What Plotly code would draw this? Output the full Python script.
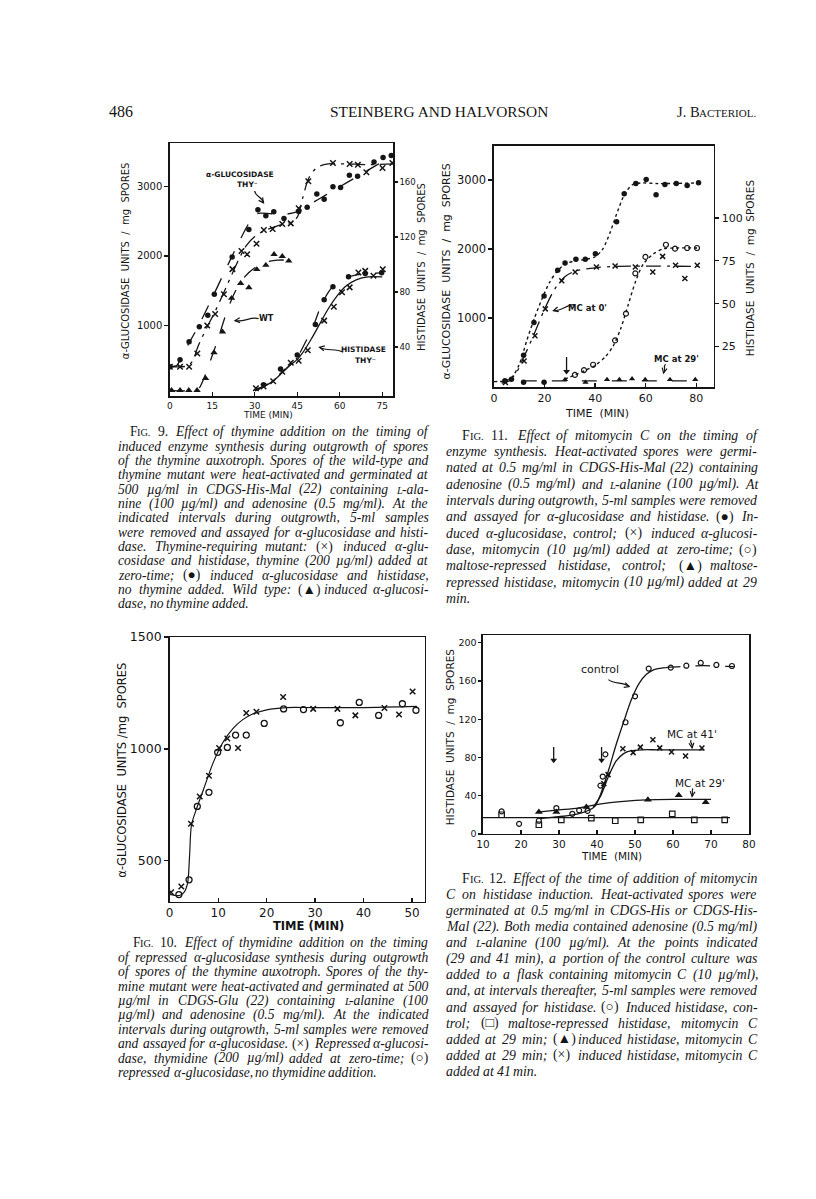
import math
import plotly.graph_objects as go

W, H = 816, 1199
INK = '#151515'

# ======================= DATA =======================
# ---- Fig. 9 (left axis: alpha-glucosidase, right axis: histidase) ----
f9_glu_nothy_t = [0, 3.6, 6.8, 10.4, 13.4, 15.7, 22, 27.9, 31.1, 33.9, 36.7, 40.3, 45.5, 48.5, 51.9, 54.5, 57.6, 60.3, 63.4, 66.3, 72.1, 75.3, 78.2]
f9_glu_nothy = [400, 500, 762, 976, 1143, 1448, 1986, 2381, 2667, 2581, 2638, 2543, 2643, 2705, 2895, 2819, 3000, 2990, 3167, 3152, 3357, 3424, 3452]
f9_glu_thy_t = [0, 3.6, 6.8, 9.7, 13.2, 16, 19.1, 22.1, 25.3, 27.3, 30.6, 33.2, 36.3, 39.7, 42.7, 45.5, 48.9, 57.6, 63.5, 66.4, 69.4, 75.1, 78.6]
f9_glu_thy = [400, 400, 400, 590, 995, 1162, 1448, 1810, 2071, 2024, 2176, 2376, 2390, 2462, 2471, 2690, 3081, 3343, 3329, 3319, 3210, 3271, 3343]
f9_glu_wt_t = [0.6, 3.6, 6.7, 9.6, 12.6, 15.6, 18.6, 21.8, 25, 27.9, 30.7, 33.9, 36.8, 39.7, 42]
f9_glu_wt = [60, 60, 60, 60, 233, 605, 905, 1390, 1605, 1543, 1805, 1867, 2024, 1995, 1929]
f9_his_nothy_t = [33.1, 39.1, 45, 51.4, 54.5, 57.6, 63.1, 69, 74.8]
f9_his_nothy = [12.6, 24, 34.2, 56.3, 74.3, 83.9, 91.1, 93.5, 94]
f9_his_thy_t = [30.4, 33.1, 36.5, 39.7, 42.7, 45.5, 48.7, 54.5, 57.9, 60.8, 63.5, 66.6, 69, 71.9, 75.2]
f9_his_thy = [10, 11.2, 15, 22, 28.5, 30, 37.6, 59.2, 69.3, 79.8, 83.4, 94.2, 95.4, 91.8, 96.6]
# hand-drawn curves
f9_fit_nothy_t = [0, 2.5, 4, 7, 10, 15, 20, 25, 28, 30, 32, 36, 42, 45, 50, 55, 60, 65, 70, 75, 78.5]
f9_fit_nothy = [400, 420, 540, 760, 980, 1400, 1830, 2250, 2480, 2600, 2620, 2610, 2610, 2640, 2760, 2880, 3000, 3120, 3240, 3360, 3450]
f9_fit_thy_t = [0, 6, 8, 10, 13, 16, 20, 24, 27, 30, 33, 37, 40, 43, 45, 47, 49, 52, 56, 62, 70, 79]
f9_fit_thy = [400, 410, 480, 700, 960, 1200, 1560, 1920, 2150, 2280, 2360, 2420, 2460, 2490, 2560, 2850, 3120, 3280, 3330, 3330, 3320, 3330]
f9_fit_wt_t = [0, 9, 10.5, 12, 14, 17, 20, 23, 26, 30, 34, 38, 42]
f9_fit_wt = [60, 60, 100, 230, 450, 800, 1180, 1480, 1680, 1830, 1910, 1940, 1940]
f9_fit_his_nothy_t = [30, 33, 37, 41, 44, 46, 48, 51, 53, 56, 59, 63, 68, 75]
f9_fit_his_nothy = [8, 11, 17, 24, 30, 36, 44, 57, 68, 80, 87, 91, 93, 94]
f9_fit_his_thy_t = [30, 34, 38, 42, 45, 47, 50, 53, 56, 59, 62, 66, 70, 75]
f9_fit_his_thy = [9, 12, 18, 26, 31, 36, 46, 57, 68, 77, 84, 89, 91, 91]

# ---- Fig. 10 ----
f10_thymidine_t = [0.3, 2.4, 4.4, 6.2, 8.1, 10.2, 11.9, 14.1, 15.8, 17.9, 23.4, 29.6, 34.6, 38.3, 44.3, 47.3, 50.1]
f10_thymidine = [359, 385, 666, 787, 880, 1004, 1047, 1004, 1161, 1166, 1232, 1179, 1179, 1150, 1183, 1154, 1257]
f10_none_t = [1.9, 4.0, 5.7, 8.1, 9.9, 11.9, 13.6, 15.8, 19.5, 23.5, 27.6, 35.2, 39.1, 43.1, 48.0, 50.8]
f10_none = [349, 415, 743, 806, 985, 1007, 1062, 1062, 1114, 1179, 1176, 1117, 1208, 1150, 1202, 1173]
f10_fit_t = [0, 2, 3, 3.7, 4.1, 4.5, 5.5, 7, 9, 11, 13, 15, 17, 20, 24, 30, 40, 51]
f10_fit = [350, 345, 360, 400, 520, 660, 730, 820, 940, 1030, 1090, 1130, 1155, 1175, 1185, 1185, 1185, 1190]

# ---- Fig. 11 (left: alpha-glucosidase, right: histidase) ----
f11_glu_ctrl_t = [4.3, 6.9, 11.7, 15.8, 19.8, 25.2, 28.1, 32.4, 36.1, 40.1, 48.5, 51.5, 56.1, 60.2, 64.1, 67.6, 72.1, 76.4, 80.9]
f11_glu_ctrl = [91, 115, 464, 938, 1321, 1694, 1799, 1852, 1852, 1933, 2397, 2804, 2952, 3010, 2790, 2938, 2952, 2924, 2962]
f11_glu_mc_t = [4.5, 11.9, 16.2, 20.3, 26.8, 32.1, 40.5, 47.9, 55.9, 62.8, 66.7, 71.8, 75.5, 80.4]
f11_glu_mc = [67, 378, 746, 1134, 1541, 1670, 1742, 1756, 1742, 1670, 1895, 1766, 1574, 1766]
f11_his_ctrl_t = [32, 35.6, 39.2, 47.9, 52.2, 55.9, 59.9, 68, 71.6, 76.4, 80.3]
f11_his_ctrl = [8.5, 11.3, 14.4, 28.6, 44.2, 67.7, 77.3, 84.4, 82.1, 82.5, 82.5]
f11_his_early_t = [11.7, 19.8]
f11_his_early = [4.2, 4.2]
f11_his_mc_t = [28.1, 36.2, 44.7, 49.6, 54.6, 59.8, 69.6, 79.6]
f11_his_mc = [5.8, 4.2, 5.8, 5.8, 6.2, 5.8, 5.8, 5.8]
f11_fit_ctrl_t = [0, 4, 7, 10, 13, 16, 19, 22, 25, 28, 32, 36, 40, 43, 46, 49, 52, 55, 58, 65, 81]
f11_fit_ctrl = [80, 90, 140, 330, 680, 1000, 1280, 1520, 1680, 1780, 1830, 1850, 1890, 2000, 2250, 2560, 2820, 2940, 2960, 2950, 2960]
f11_fit_mc_t = [3, 6, 9, 12, 16, 20, 24, 28, 32, 40, 48, 81]
f11_fit_mc = [60, 90, 220, 450, 780, 1130, 1420, 1600, 1680, 1730, 1750, 1750]
f11_fit_his_t = [28, 32, 36, 40, 44, 47, 50, 53, 56, 59, 63, 67, 72, 81]
f11_fit_his = [6, 8.5, 11, 14, 19, 25, 35, 49, 63, 73, 79, 82, 82.5, 82.5]
f11_fit_his_mc_t = [11, 80]
f11_fit_his_mc = [5, 5]
f11_mc_added = [28.7]          # arrow: time of mitomycin addition
f11_arrow_from_to = [19, 10.5]  # right-axis values of arrow tail / head

# ---- Fig. 12 ----
f12_ctrl_t = [14.9, 19.5, 24.7, 29.3, 33.5, 35.3, 37.5, 40.9, 41.5, 42.2, 47.5, 50, 53.6, 59.4, 63.5, 67.3, 71.4, 75.5]
f12_ctrl = [23.5, 10.5, 13.7, 27, 21, 24.6, 24, 50.5, 60, 83.2, 116.8, 144, 173, 174, 176, 179, 176.8, 175.7]
f12_mc41_t = [41.8, 42.9, 46.8, 49.5, 51.4, 54.7, 56.5, 59.6, 63.3, 67.6]
f12_mc41 = [52.6, 62, 89, 85, 90.8, 98.4, 90, 85.6, 81.5, 89.8]
f12_rep29_t = [14.9, 24.7, 30.6, 38.5, 44.8, 51.5, 59.8, 65.6, 73.6]
f12_rep29 = [20, 9.5, 14.7, 16.5, 13.7, 14.7, 21, 14.7, 14.7]
f12_ind29_t = [24.7, 29.3, 37.2, 53.4, 61.5, 68.6]
f12_ind29 = [22.8, 22.8, 28, 35.8, 40.4, 33]
f12_fit_ctrl_t = [25, 30, 35, 38, 39.5, 41, 43, 45, 47, 49, 51, 53, 55, 58]
f12_fit_ctrl = [16, 18, 21, 25, 29, 42, 66, 93, 117, 140, 157, 167, 172, 174]
f12_fit_ctrl_plateau_t = [58, 62, 68, 76]
f12_fit_ctrl_plateau = [174, 175, 176, 175]
f12_fit_mc41_t = [39, 41, 43, 45, 47, 49, 52, 56, 68]
f12_fit_mc41 = [28, 40, 60, 76, 84, 87, 88, 88, 88]
f12_fit_ind29_t = [25, 30, 35, 38.5, 42, 47, 53, 60, 70]
f12_fit_ind29 = [23, 25, 27, 29.5, 32, 34, 35.5, 36, 36]
f12_fit_rep29_t = [10, 75]
f12_fit_rep29 = [17, 17]
f12_mc_added = [28.6, 41.2]
f12_arrow_from_to = [91, 77]

# tick labels
f9_xticks = [0, 15, 30, 45, 60, 75]
f9_yticks = [1000, 2000, 3000]
f9_y2ticks = [40, 80, 120, 160]
f10_xticks = [0, 10, 20, 30, 40, 50]
f10_yticks = [500, 1000, 1500]
f11_xticks = [0, 20, 40, 60, 80]
f11_yticks = [1000, 2000, 3000]
f11_y2ticks = [25, 50, 75, 100]
f12_xticks = [10, 20, 30, 40, 50, 60, 70, 80]
f12_yticks = [0, 40, 80, 120, 160, 200]

# ======================= FIGURE =======================
fig = go.Figure()


def dom_x(a, b):
    return [a / W, b / W]


def dom_y(top, bottom):
    return [1 - bottom / H, 1 - top / H]


def pts(t, v, xa, ya, symbol, size=5.5, lw=1.2):
    if symbol == 'x-thin':
        marker = dict(symbol=symbol, size=size, color=INK, line=dict(width=1.5, color=INK))
    elif symbol.endswith('-open'):
        marker = dict(symbol=symbol, size=size, color=INK, line=dict(width=lw, color=INK))
    else:
        marker = dict(symbol=symbol, size=size, color=INK, line=dict(width=0))
    fig.add_trace(go.Scatter(x=t, y=v, xaxis=xa, yaxis=ya, mode='markers', marker=marker,
                             showlegend=False, hoverinfo='skip'))


def curve(t, v, xa, ya, dash='solid', width=1.3):
    fig.add_trace(go.Scatter(x=t, y=v, xaxis=xa, yaxis=ya, mode='lines',
                             line=dict(color=INK, width=width, dash=dash, shape='spline', smoothing=0.8),
                             showlegend=False, hoverinfo='skip'))


def down_arrow(times, from_to, xa, ya):
    for t in times:
        fig.add_trace(go.Scatter(x=[t, t], y=from_to, xaxis=xa, yaxis=ya, mode='lines',
                                 line=dict(color=INK, width=1.3), showlegend=False, hoverinfo='skip'))
        fig.add_trace(go.Scatter(x=[t], y=[from_to[1]], xaxis=xa, yaxis=ya, mode='markers',
                                 marker=dict(symbol='triangle-down', size=6, color=INK),
                                 showlegend=False, hoverinfo='skip'))


# Fig 9
curve(f9_fit_nothy_t, f9_fit_nothy, 'x', 'y', 'longdash')
curve(f9_fit_thy_t, f9_fit_thy, 'x', 'y', 'longdashdot')
curve(f9_fit_wt_t, f9_fit_wt, 'x', 'y', 'longdash')
curve(f9_fit_his_nothy_t, f9_fit_his_nothy, 'x', 'y2', 'longdash')
curve(f9_fit_his_thy_t, f9_fit_his_thy, 'x', 'y2', 'solid')
pts(f9_glu_nothy_t, f9_glu_nothy, 'x', 'y', 'circle', 5.5)
pts(f9_glu_thy_t, f9_glu_thy, 'x', 'y', 'x-thin', 5.5)
pts(f9_glu_wt_t, f9_glu_wt, 'x', 'y', 'triangle-up', 6.5)
pts(f9_his_nothy_t, f9_his_nothy, 'x', 'y2', 'circle', 5.5)
pts(f9_his_thy_t, f9_his_thy, 'x', 'y2', 'x-thin', 5.5)

# Fig 11
curve(f11_fit_ctrl_t, f11_fit_ctrl, 'x2', 'y3', 'dot', 1.4)
curve(f11_fit_mc_t, f11_fit_mc, 'x2', 'y3', 'longdashdot')
curve(f11_fit_his_t, f11_fit_his, 'x2', 'y4', 'dot', 1.4)
curve(f11_fit_his_mc_t, f11_fit_his_mc, 'x2', 'y4', 'longdash')
pts(f11_glu_ctrl_t, f11_glu_ctrl, 'x2', 'y3', 'circle', 5.5)
pts(f11_glu_mc_t, f11_glu_mc, 'x2', 'y3', 'x-thin', 5)
pts(f11_his_ctrl_t, f11_his_ctrl, 'x2', 'y4', 'circle-open', 5)
pts(f11_his_early_t, f11_his_early, 'x2', 'y4', 'circle', 5.5)
pts(f11_his_mc_t, f11_his_mc, 'x2', 'y4', 'triangle-up', 5.5)
down_arrow(f11_mc_added, f11_arrow_from_to, 'x2', 'y4')

# Fig 10
curve(f10_fit_t, f10_fit, 'x3', 'y5', 'solid', 1.2)
pts(f10_thymidine_t, f10_thymidine, 'x3', 'y5', 'x-thin', 5.5)
pts(f10_none_t, f10_none, 'x3', 'y5', 'circle-open', 6, 1.3)

# Fig 12
curve(f12_fit_rep29_t, f12_fit_rep29, 'x4', 'y6', 'solid', 1.2)
curve(f12_fit_ctrl_t, f12_fit_ctrl, 'x4', 'y6', 'solid', 1.3)
curve(f12_fit_ctrl_plateau_t, f12_fit_ctrl_plateau, 'x4', 'y6', 'longdash', 1.3)
curve(f12_fit_mc41_t, f12_fit_mc41, 'x4', 'y6', 'solid', 1.3)
curve(f12_fit_ind29_t, f12_fit_ind29, 'x4', 'y6', 'solid', 1.3)
pts(f12_rep29_t, f12_rep29, 'x4', 'y6', 'square-open', 5.5)
pts(f12_ctrl_t, f12_ctrl, 'x4', 'y6', 'circle-open', 5)
pts(f12_mc41_t, f12_mc41, 'x4', 'y6', 'x-thin', 5)
pts(f12_ind29_t, f12_ind29, 'x4', 'y6', 'triangle-up', 7)
down_arrow(f12_mc_added, f12_arrow_from_to, 'x4', 'y6')


def ax(fs, ticks='outside', **kw):
    d = dict(showline=True, linecolor=INK, linewidth=1.5, ticks=ticks, ticklen=4, tickwidth=1.3,
             tickcolor=INK, showgrid=False, zeroline=False, fixedrange=True,
             tickfont=dict(family='DejaVu Sans', size=fs, color=INK))
    d.update(kw)
    return d


fig.update_layout(
    width=W, height=H, margin=dict(l=0, r=0, t=0, b=0),
    paper_bgcolor='white', plot_bgcolor='white', showlegend=False,
    # Fig 9
    xaxis=ax(9, 'inside', domain=dom_x(165.7, 393), range=[0, 78.9], tickvals=f9_xticks,
             anchor='y', mirror=True),
    yaxis=ax(10, domain=dom_y(136.7, 392.7), range=[-29, 3629], tickvals=f9_yticks, anchor='x', mirror=True),
    yaxis2=ax(8.5, overlaying='y', side='right', range=[4, 188.3], tickvals=f9_y2ticks, anchor='x',
              ticklen=3),
    # Fig 11
    xaxis2=ax(11, 'inside', domain=dom_x(495.5, 719.3), range=[0, 87], tickvals=f11_xticks,
              anchor='y3', mirror=True),
    yaxis3=ax(11.5, domain=dom_y(139.3, 383.3), range=[0, 3498], tickvals=f11_yticks, anchor='x2', mirror=True),
    yaxis4=ax(11, overlaying='y3', side='right', range=[1.35, 142.1], tickvals=f11_y2ticks, anchor='x2'),
    # Fig 10
    xaxis3=ax(12, 'inside', domain=dom_x(165.5, 425), range=[0, 52.6], tickvals=f10_xticks,
              anchor='y5', mirror=True),
    yaxis5=ax(12.5, domain=dom_y(636, 903.3), range=[318, 1500], tickvals=f10_yticks, anchor='x3', mirror=True),
    # Fig 12
    xaxis4=ax(10.5, 'inside', domain=dom_x(484.3, 755), range=[10, 80], tickvals=f12_xticks,
              anchor='y6', mirror=True),
    yaxis6=ax(9.5, domain=dom_y(634.3, 835), range=[-0.1, 207.7], tickvals=f12_yticks, anchor='x4', mirror=True,
              ticklen=3),
)

annotations = []
shapes = []


def ann(x, y, text, size, family='DejaVu Sans', xanchor='center', yanchor='middle', angle=0):
    annotations.append(dict(xref='paper', yref='paper', x=x / W, y=1 - y / H, text=text, showarrow=False,
                            font=dict(family=family, size=size, color=INK), xanchor=xanchor,
                            yanchor=yanchor, textangle=angle, borderpad=0, borderwidth=0))


def P(x, y):
    return '%.5f,%.5f' % (x / W, 1 - y / H)


def squiggle(tx, ty, hx, hy, amp=3.0):
    dx, dy = hx - tx, hy - ty
    L = math.hypot(dx, dy)
    ux, uy = dx / L, dy / L
    nx, ny = -uy, ux
    c1 = (tx + dx * 0.35 + nx * amp * 2, ty + dy * 0.35 + ny * amp * 2)
    c2 = (tx + dx * 0.65 - nx * amp * 2, ty + dy * 0.65 - ny * amp * 2)
    path = 'M %s C %s %s %s' % (P(tx, ty), P(*c1), P(*c2), P(hx, hy))
    shapes.append(dict(type='path', xref='paper', yref='paper', path=path,
                       line=dict(color=INK, width=1.2)))
    a1 = (hx - ux * 5 + nx * 2.5, hy - uy * 5 + ny * 2.5)
    a2 = (hx - ux * 5 - nx * 2.5, hy - uy * 5 - ny * 2.5)
    shapes.append(dict(type='path', xref='paper', yref='paper',
                       path='M %s L %s L %s' % (P(*a1), P(hx, hy), P(*a2)),
                       line=dict(color=INK, width=1.2)))


# header
ann(104, 105, '486', 16, 'Liberation Serif', xanchor='left')
ann(440, 105, 'STEINBERG AND HALVORSON', 15.4, 'Liberation Serif')
ann(682, 105, 'J. B', 14.5, 'Liberation Serif', xanchor='left')
ann(704.5, 105.8, 'ACTERIOL.', 11, 'Liberation Serif', xanchor='left')

# axis titles
ann(120, 256, 'α-GLUCOSIDASE  UNITS  /  mg  SPORES', 10, angle=-90)
ann(421, 262, 'HISTIDASE  UNITS  /  mg  SPORES', 10, angle=-90)
ann(266, 411.5, 'TIME (MIN)', 9)
ann(447, 266, 'α-GLUCOSIDASE  UNITS  /  mg  SPORES', 11, angle=-90)
ann(756, 263, 'HISTIDASE  UNITS  /  mg  SPORES', 10.5, angle=-90)
ann(600, 410, 'TIME  (MIN)', 11)
ann(117, 770, 'α-GLUCOSIDASE  UNITS /mg  SPORES', 11.5, angle=-90)
ann(307, 928, '<b>TIME (MIN)</b>', 11.5)
ann(451, 737, 'HISTIDASE  UNITS  /  mg  SPORES', 10.5, angle=-90)
ann(615, 857, 'TIME  (MIN)', 10.5)

# in-plot labels Fig 9
ann(237, 168, '<b>α-GLUCOSIDASE</b>', 7.5)
ann(245, 178, '<b>THY⁻</b>', 7.5)
squiggle(252, 185, 261, 197, 1.5)
ann(264, 314, '<b>WT</b>', 8)
squiggle(256, 314, 232, 316, 1.5)
ann(363, 345, '<b>HISTIDASE</b>', 7.5)
ann(365, 356, '<b>THY⁻</b>', 7.5)
squiggle(342, 348, 318, 343, 1.5)
# Fig 11
ann(591, 303, '<b>MC at 0\'</b>', 8.5)
squiggle(578, 300, 556, 306, 1.5)
ann(681, 355, '<b>MC at 29\'</b>', 8.5)
squiggle(670, 360, 668, 369, 1.2)
# Fig 12
ann(603, 669, 'control', 11)
squiggle(612, 679, 633, 686, 1.5)
ann(697, 734, 'MC at 41\'', 10.5)
squiggle(696, 740, 697, 748, 1.2)
ann(705, 783, 'MC at 29\'', 10.5)
squiggle(698, 789, 697, 797, 1.2)

# ======================= CAPTIONS (justified, word by word) =======================
IT = {' ': 250, 'a': 500, 'b': 500, 'c': 444, 'd': 500, 'e': 444, 'f': 278, 'g': 500, 'h': 500, 'i': 278,
      'j': 278, 'k': 444, 'l': 278, 'm': 722, 'n': 500, 'o': 500, 'p': 500, 'q': 500, 'r': 389, 's': 389,
      't': 278, 'u': 500, 'v': 444, 'w': 667, 'x': 444, 'y': 444, 'z': 389,
      'A': 611, 'B': 611, 'C': 667, 'D': 722, 'E': 611, 'F': 611, 'G': 722, 'H': 722, 'I': 333, 'J': 444,
      'K': 667, 'L': 556, 'M': 833, 'N': 667, 'O': 722, 'P': 611, 'Q': 722, 'R': 611, 'S': 500, 'T': 556,
      'U': 722, 'V': 611, 'W': 833, 'X': 611, 'Y': 556, 'Z': 556,
      '.': 250, ',': 250, ';': 333, ':': 333, '-': 333, '(': 333, ')': 333, '/': 278, "'": 214,
      'µ': 500, 'α': 520, '×': 675, '●': 604, '○': 604, '▲': 700, '□': 604}
SYMS = ('●', '○', '▲', '□', '×')


def wid(s, fs):
    return sum(IT.get(c, 500) for c in s) / 1000 * fs


def tok_parts(tok, fs, upright=False):
    """Return list of (html, width, size) pieces for one word."""
    sc = round(fs * 0.76, 1)
    if tok == 'FIG.':
        return [('F', 556 / 1000 * fs, fs), ('IG.', (333 + 722 + 250) / 1000 * sc, sc)]
    if tok.startswith('L-'):
        return [('<i>L</i>', 556 / 1000 * sc, sc), ('<i>' + tok[1:] + '</i>', wid(tok[1:], fs), fs)]
    if upright or any(s in tok for s in SYMS):
        return [(tok, wid(tok, fs), fs)]
    return [('<i>' + tok + '</i>', wid(tok, fs), fs)]


def caption(lines, left, right, indent, y0, dy, fs):
    for i, line in enumerate(lines):
        words = line.split(' ')
        x0 = indent if i == 0 else left
        rend = [tok_parts(w, fs, upright=(i == 0 and k < 2)) for k, w in enumerate(words)]
        total = sum(p[1] for r in rend for p in r)
        if i == len(lines) - 1 or len(words) == 1:
            gap = 0.25 * fs
        else:
            gap = max((right - x0 - total) / (len(words) - 1), 0.12 * fs)
        x = x0
        y = y0 + i * dy
        for parts in rend:
            for html, wd, size in parts:
                ann(x, y + (fs - size) * 0.3, html, size, 'Liberation Serif', xanchor='left')
                x += wd
            x += gap


cap9 = [
    "FIG. 9. Effect of thymine addition on the timing of",
    "induced enzyme synthesis during outgrowth of spores",
    "of the thymine auxotroph. Spores of the wild-type and",
    "thymine mutant were heat-activated and germinated at",
    "500 µg/ml in CDGS-His-Mal (22) containing L-ala-",
    "nine (100 µg/ml) and adenosine (0.5 mg/ml). At the",
    "indicated intervals during outgrowth, 5-ml samples",
    "were removed and assayed for α-glucosidase and histi-",
    "dase. Thymine-requiring mutant: (×) induced α-glu-",
    "cosidase and histidase, thymine (200 µg/ml) added at",
    "zero-time; (●) induced α-glucosidase and histidase,",
    "no thymine added. Wild type: (▲) induced α-glucosi-",
    "dase, no thymine added.",
]
cap10 = [
    "FIG. 10. Effect of thymidine addition on the timing",
    "of repressed α-glucosidase synthesis during outgrowth",
    "of spores of the thymine auxotroph. Spores of the thy-",
    "mine mutant were heat-activated and germinated at 500",
    "µg/ml in CDGS-Glu (22) containing L-alanine (100",
    "µg/ml) and adenosine (0.5 mg/ml). At the indicated",
    "intervals during outgrowth, 5-ml samples were removed",
    "and assayed for α-glucosidase. (×) Repressed α-glucosi-",
    "dase, thymidine (200 µg/ml) added at zero-time; (○)",
    "repressed α-glucosidase, no thymidine addition.",
]
cap11 = [
    "FIG. 11. Effect of mitomycin C on the timing of",
    "enzyme synthesis. Heat-activated spores were germi-",
    "nated at 0.5 mg/ml in CDGS-His-Mal (22) containing",
    "adenosine (0.5 mg/ml) and L-alanine (100 µg/ml). At",
    "intervals during outgrowth, 5-ml samples were removed",
    "and assayed for α-glucosidase and histidase. (●) In-",
    "duced α-glucosidase, control; (×) induced α-glucosi-",
    "dase, mitomycin (10 µg/ml) added at zero-time; (○)",
    "maltose-repressed histidase, control; (▲) maltose-",
    "repressed histidase, mitomycin (10 µg/ml) added at 29",
    "min.",
]
cap12 = [
    "FIG. 12. Effect of the time of addition of mitomycin",
    "C on histidase induction. Heat-activated spores were",
    "germinated at 0.5 mg/ml in CDGS-His or CDGS-His-",
    "Mal (22). Both media contained adenosine (0.5 mg/ml)",
    "and L-alanine (100 µg/ml). At the points indicated",
    "(29 and 41 min), a portion of the control culture was",
    "added to a flask containing mitomycin C (10 µg/ml),",
    "and, at intervals thereafter, 5-ml samples were removed",
    "and assayed for histidase. (○) Induced histidase, con-",
    "trol; (□) maltose-repressed histidase, mitomycin C",
    "added at 29 min; (▲) induced histidase, mitomycin C",
    "added at 29 min; (×) induced histidase, mitomycin C",
    "added at 41 min.",
]

caption(cap9, 113.3, 428, 125, 428.5, 14.5, 13.6)
caption(cap10, 113.3, 428, 128, 945, 14.6, 13.6)
caption(cap11, 446.7, 762.7, 463.3, 432, 16.5, 13.8)
caption(cap12, 446.7, 762.7, 463.3, 880, 16.25, 13.8)

fig.update_layout(annotations=annotations, shapes=shapes)
fig.write_html('out.html', config={'displayModeBar': False, 'staticPlot': True},
               post_script="document.body.style.margin='0';document.body.style.padding='0';"
                           "document.documentElement.style.overflow='hidden';")
